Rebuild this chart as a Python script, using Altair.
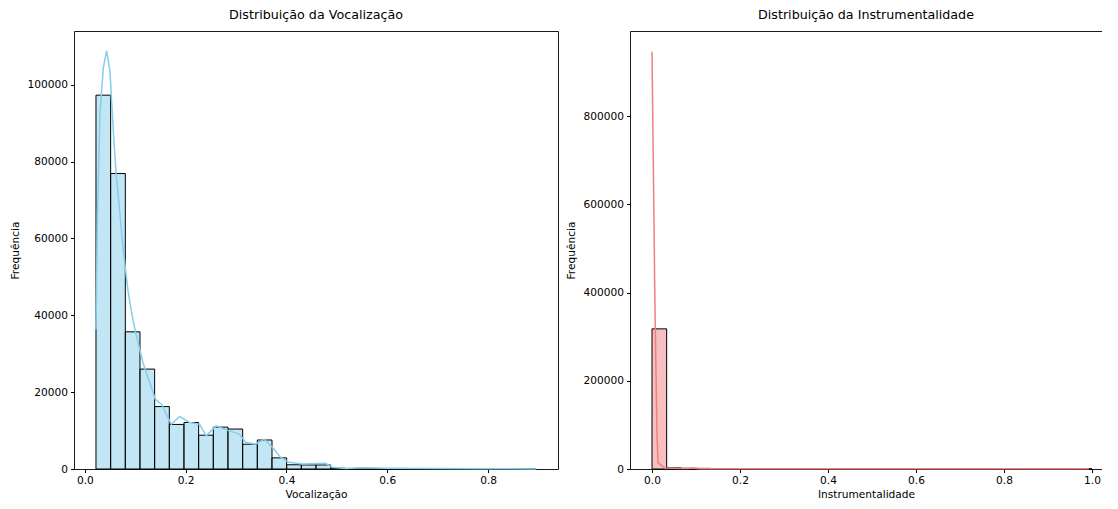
import altair as alt
import pandas as pd

# ---- data ----
voc_bin_start = 0.0221
voc_bin_width = 0.0291
voc_counts = [97300, 76900, 35700, 26000, 16250, 11600, 12100, 8800, 10900, 10400,
              6450, 7550, 2900, 1100, 1050, 1050, 200, 90, 70, 50,
              40, 30, 30, 20, 20, 15, 10, 10, 10, 5]
voc_kde_x = [0.0221, 0.0249, 0.0300, 0.0367, 0.0432, 0.0498, 0.0565, 0.0616, 0.0762, 0.0861,
             0.0960, 0.1025, 0.1157, 0.1400, 0.1523, 0.1716, 0.1880, 0.2077, 0.2274, 0.2407,
             0.2604, 0.2867, 0.3064, 0.3196, 0.3393, 0.3558, 0.3724, 0.3887, 0.4051, 0.4316,
             0.4776, 0.4908, 0.5171, 0.55, 0.60, 0.70, 0.80, 0.895]
voc_kde_y = [36300, 64800, 92400, 104500, 108800, 103600, 88000, 77700, 57000, 45900,
             38500, 34500, 27500, 18100, 16800, 11650, 13650, 12100, 11650, 8630,
             11220, 9920, 9070, 6900, 6480, 7770, 5600, 3000, 1730, 1300,
             1470, 440, 150, 300, 200, 100, 50, 30]

inst_bin_start = 0.0
inst_bin_width = 1 / 30
inst_counts = [317700, 2500, 1600, 1400, 1000, 900, 800, 700, 650, 600,
               550, 500, 500, 480, 450, 450, 430, 420, 420, 450,
               480, 500, 550, 600, 650, 700, 700, 650, 600, 500]
inst_kde_x = [0.0, 0.0045, 0.006, 0.0075, 0.0113, 0.0135, 0.0285, 0.05, 0.08, 0.092,
              0.11, 0.2, 0.4, 0.6, 0.8, 0.993]
inst_kde_y = [946000, 563000, 428000, 315000, 83000, 15000, 2250, 1500, 1200, 2500,
              800, 600, 500, 500, 500, 400]

FONT = "DejaVu Sans"
LBL = 10.6
SPINE = dict(domainColor="black", domainWidth=0.9)


def axis(**kw):
    base = dict(grid=False, tickSize=3.5, labelPadding=3, labelFontSize=LBL,
                titleFontSize=LBL, titleFontWeight="normal", labelColor="black",
                titleColor="black", tickColor="black", labelOverlap=False,
                labelFont=FONT, titleFont=FONT, **SPINE)
    base.update(kw)
    return alt.Axis(**base)


def frame_axis(orient):
    return alt.Axis(orient=orient, labels=False, ticks=False, grid=False,
                    title=None, **SPINE)


def panel(counts, start, width, kx, ky, fill, line, title, xtitle,
          xdomain, ydomain, xticks, yticks, pw, right_spine):
    bars = pd.DataFrame({
        "x0": [start + i * width for i in range(len(counts))],
        "x1": [start + (i + 1) * width for i in range(len(counts))],
        "count": counts,
    })
    kde = pd.DataFrame({"x": kx, "y": ky})
    xs = alt.Scale(domain=xdomain, nice=False, zero=False)
    ys = alt.Scale(domain=ydomain, nice=False)
    b = alt.Chart(bars).mark_rect(fill=fill, fillOpacity=0.5, stroke="black",
                                  strokeWidth=1).encode(
        x=alt.X("x0:Q", scale=xs, title=xtitle,
                axis=axis(values=xticks, format=".1f", titlePadding=3)),
        x2="x1:Q",
        y=alt.Y("count:Q", scale=ys, title="Frequência",
                axis=axis(values=yticks, format="d", titlePadding=7)),
        y2=alt.datum(0),
    )
    l = alt.Chart(kde).mark_line(color=line, strokeWidth=1.5).encode(
        x=alt.X("x:Q", scale=xs, axis=frame_axis("top")),
        y=alt.Y("y:Q", scale=ys,
                axis=frame_axis("right") if right_spine else None),
    )
    return alt.layer(b, l).resolve_axis(x="independent", y="independent").properties(
        width=pw, height=438,
        title=alt.TitleParams(title, fontSize=12.7, fontWeight="normal", font=FONT,
                              color="black", anchor="middle", offset=9),
    )


left = panel(voc_counts, voc_bin_start, voc_bin_width, voc_kde_x, voc_kde_y,
             "#87CEEB", "#87CEEB", "Distribuição da Vocalização", "Vocalização",
             [-0.0215, 0.9387], [0, 114000], [0.0, 0.2, 0.4, 0.6, 0.8],
             [0, 20000, 40000, 60000, 80000, 100000], 484, True)
right = panel(inst_counts, inst_bin_start, inst_bin_width, inst_kde_x, inst_kde_y,
              "#F08080", "#F08080", "Distribuição da Instrumentalidade", "Instrumentalidade",
              [-0.05, 1.0227], [0, 993000], [0.0, 0.2, 0.4, 0.6, 0.8, 1.0],
              [0, 200000, 400000, 600000, 800000], 472, False)

chart = alt.hconcat(left, right, spacing=8).configure(
    padding={"left": 2, "top": 1, "right": 0, "bottom": 0},
    font=FONT, background="white",
).configure_view(stroke=None)

chart.save("out.html", embed_options={"renderer": "svg", "actions": False})
